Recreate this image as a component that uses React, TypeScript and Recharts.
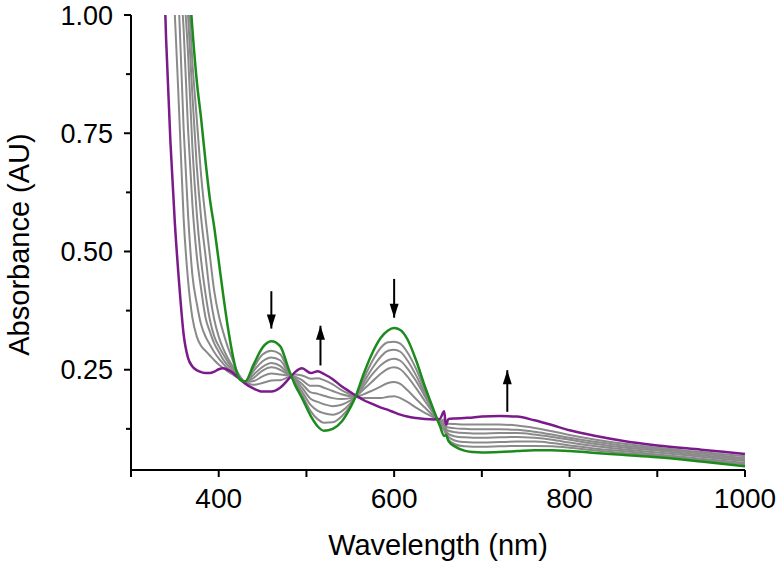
import React from 'react';
import { LineChart, Line, XAxis, YAxis, ReferenceLine, ReferenceDot } from 'recharts';

// wavelength grid (nm)
const WAVELENGTH = [
  335, 340, 345, 350, 355, 360, 365, 370, 375, 380, 385, 390, 395, 400, 405, 410, 415, 420, 425, 430,
  440, 450, 460, 470, 480, 487, 495, 505, 513, 520, 530, 540, 550, 556, 565, 575, 585, 593, 600, 607,
  615, 625, 635, 645, 652, 657, 659, 662, 670, 680, 690, 700, 720, 740, 760, 780, 800, 830, 860, 900,
  950, 1000,
];

// starting spectrum
const PURPLE = [
  1.25, 0.95, 0.73, 0.56, 0.43, 0.325, 0.275, 0.257, 0.249, 0.245, 0.243, 0.243, 0.246, 0.251, 0.253, 0.25, 0.245, 0.237, 0.229, 0.221,
  0.21, 0.204, 0.204, 0.212, 0.231, 0.245, 0.253, 0.243, 0.247, 0.241, 0.23, 0.215, 0.203, 0.196, 0.186, 0.178, 0.17, 0.165, 0.16, 0.155,
  0.151, 0.148, 0.146, 0.145, 0.146, 0.162, 0.134, 0.146, 0.147, 0.148, 0.149, 0.151, 0.152, 0.151, 0.143, 0.133, 0.122, 0.11, 0.1, 0.09,
  0.081, 0.072,
];

// intermediate spectra
const GRAY_1 = [
  null, null, 1.15, 1.0, 0.79, 0.57, 0.44, 0.36, 0.32, 0.3, 0.29, 0.28, 0.27, 0.261, 0.254, 0.247, 0.241, 0.235, 0.229, 0.224,
  0.218, 0.222, 0.227, 0.228, 0.235, 0.24, 0.238, 0.231, 0.232, 0.228, 0.219, 0.207, 0.198, 0.193, 0.19, 0.19, 0.19, 0.193, 0.194, 0.19,
  0.182, 0.17, 0.159, 0.149, 0.142, 0.145, 0.133, 0.136, 0.135, 0.134, 0.134, 0.134, 0.134, 0.132, 0.127, 0.12, 0.112, 0.102, 0.094, 0.085,
  0.076, 0.067,
];
const GRAY_2 = [
  null, null, null, 1.15, 1.0, 0.76, 0.58, 0.45, 0.39, 0.345, 0.32, 0.303, 0.287, 0.274, 0.263, 0.253, 0.245, 0.238, 0.23, 0.224,
  0.226, 0.236, 0.242, 0.24, 0.237, 0.235, 0.228, 0.216, 0.216, 0.212, 0.205, 0.198, 0.194, 0.193, 0.198, 0.206, 0.215, 0.222, 0.224, 0.22,
  0.207, 0.188, 0.17, 0.152, 0.14, 0.14, 0.129, 0.128, 0.126, 0.125, 0.124, 0.124, 0.124, 0.123, 0.119, 0.113, 0.106, 0.097, 0.09, 0.082,
  0.073, 0.063,
];
const GRAY_3 = [
  null, null, null, null, 1.1, 0.97, 0.76, 0.6, 0.49, 0.42, 0.36, 0.33, 0.305, 0.288, 0.272, 0.26, 0.25, 0.24, 0.231, 0.224,
  0.233, 0.248, 0.255, 0.25, 0.238, 0.232, 0.22, 0.202, 0.199, 0.195, 0.19, 0.188, 0.19, 0.193, 0.208, 0.225, 0.242, 0.252, 0.255, 0.251,
  0.236, 0.211, 0.184, 0.157, 0.139, 0.136, 0.126, 0.121, 0.118, 0.116, 0.115, 0.115, 0.116, 0.116, 0.113, 0.108, 0.102, 0.093, 0.086, 0.079,
  0.069, 0.06,
];
const GRAY_4 = [
  null, null, null, null, null, 1.06, 0.92, 0.72, 0.58, 0.48, 0.41, 0.355, 0.32, 0.3, 0.283, 0.268, 0.255, 0.243, 0.232, 0.224,
  0.24, 0.256, 0.264, 0.258, 0.24, 0.23, 0.212, 0.188, 0.182, 0.177, 0.173, 0.176, 0.185, 0.193, 0.215, 0.24, 0.26, 0.27, 0.273, 0.269,
  0.253, 0.226, 0.194, 0.16, 0.138, 0.132, 0.122, 0.114, 0.109, 0.107, 0.106, 0.106, 0.107, 0.108, 0.106, 0.102, 0.096, 0.088, 0.082, 0.075,
  0.066, 0.057,
];
const GRAY_5 = [
  null, null, null, null, null, 1.15, 1.0, 0.83, 0.68, 0.57, 0.49, 0.41, 0.355, 0.32, 0.295, 0.276, 0.26, 0.245, 0.233, 0.224,
  0.248, 0.268, 0.276, 0.27, 0.242, 0.226, 0.204, 0.175, 0.163, 0.158, 0.155, 0.162, 0.179, 0.193, 0.222, 0.253, 0.278, 0.29, 0.292, 0.288,
  0.27, 0.238, 0.2, 0.162, 0.136, 0.128, 0.118, 0.108, 0.1, 0.097, 0.096, 0.096, 0.097, 0.098, 0.098, 0.095, 0.09, 0.083, 0.078, 0.071,
  0.062, 0.053,
];
const GRAY_6 = [
  null, null, null, null, null, null, 1.06, 0.9, 0.78, 0.66, 0.57, 0.49, 0.415, 0.365, 0.33, 0.3, 0.275, 0.25, 0.234, 0.224,
  0.255, 0.282, 0.29, 0.283, 0.245, 0.223, 0.197, 0.162, 0.145, 0.138, 0.139, 0.151, 0.174, 0.193, 0.23, 0.268, 0.297, 0.308, 0.309, 0.305,
  0.287, 0.252, 0.207, 0.163, 0.134, 0.122, 0.114, 0.102, 0.092, 0.088, 0.087, 0.087, 0.088, 0.089, 0.089, 0.088, 0.085, 0.079, 0.074, 0.068,
  0.059, 0.05,
];

// final spectrum
const GREEN = [
  null, null, null, null, null, null, 1.1, 0.97, 0.86, 0.78, 0.69, 0.61, 0.55, 0.48, 0.41, 0.345, 0.29, 0.248, 0.228, 0.225,
  0.262, 0.297, 0.31, 0.3, 0.25, 0.218, 0.19, 0.152, 0.13, 0.121, 0.125, 0.14, 0.17, 0.193, 0.24, 0.285, 0.318, 0.333, 0.338, 0.334,
  0.315, 0.27, 0.215, 0.165, 0.132, 0.11, 0.112, 0.099, 0.087, 0.079, 0.076, 0.075, 0.076, 0.078, 0.08, 0.08, 0.078, 0.074, 0.07, 0.065,
  0.056, 0.046,
];

const GRAYS = [GRAY_1, GRAY_2, GRAY_3, GRAY_4, GRAY_5, GRAY_6];

const X_TICKS = [300, 400, 500, 600, 700, 800, 900, 1000];
const X_LABELS = [400, 600, 800, 1000];
const Y_TICKS = [0.125, 0.25, 0.375, 0.5, 0.625, 0.75, 0.875, 1.0];
const Y_LABELS = [0.25, 0.5, 0.75, 1.0];

// arrows: wavelength, tail absorbance, head absorbance
const ARROW_X = [460, 600, 516, 729];
const ARROW_FROM = [0.416, 0.442, 0.259, 0.161];
const ARROW_TO = [0.337, 0.36, 0.343, 0.249];

const data = WAVELENGTH.map((nm, i) => {
  const row: any = { nm, purple: PURPLE[i], green: GREEN[i] };
  GRAYS.forEach((g, k) => {
    row[`g${k + 1}`] = g[i];
  });
  return row;
});

const FONT = 'Arial, "Liberation Sans", sans-serif';

const XTick = (props: any) => {
  const { x, y, payload } = props;
  const show = X_LABELS.includes(payload.value);
  return (
    <g>
      <line x1={x} x2={x} y1={y} y2={y + 7} stroke="#000" strokeWidth={2} />
      {show && (
        <text x={x} y={y + 38} textAnchor="middle" fontSize={28} fontFamily={FONT} fill="#000">
          {payload.value}
        </text>
      )}
    </g>
  );
};

const YTick = (props: any) => {
  const { x, y, payload } = props;
  const major = Y_LABELS.includes(payload.value);
  return (
    <g>
      <line x1={x - (major ? 7 : 5)} x2={x} y1={y} y2={y} stroke="#000" strokeWidth={2} />
      {major && (
        <text x={x - 18} y={y} dy="0.36em" textAnchor="end" fontSize={27} fontFamily={FONT} fill="#000">
          {payload.value.toFixed(2)}
        </text>
      )}
    </g>
  );
};

const arrowHead = (up: boolean) => (props: any) => {
  const { cx, cy } = props;
  const d = up ? 14 : -14;
  return <polygon points={`${cx - 4.5},${cy + d} ${cx + 4.5},${cy + d} ${cx},${cy}`} fill="#000" />;
};

export default function App() {
  return (
    <div style={{ position: 'absolute', left: 0, top: 0, background: '#fff' }}>
      <LineChart width={778} height={563} data={data} margin={{ top: 15, right: 33, bottom: 0, left: 0 }}>
        <XAxis
          dataKey="nm"
          type="number"
          domain={[300, 1000]}
          ticks={X_TICKS}
          tick={<XTick />}
          tickLine={false}
          tickSize={0}
          tickMargin={0}
          height={93}
          stroke="#000"
          strokeWidth={2}
          label={{
            content: ({ viewBox }: any) => (
              <text
                x={viewBox.x + viewBox.width / 2}
                y={viewBox.y + 85}
                textAnchor="middle"
                fontSize={29}
                fontFamily={FONT}
                fill="#000"
              >
                Wavelength (nm)
              </text>
            ),
          }}
        />
        <YAxis
          type="number"
          domain={[0.038, 1.0]}
          allowDataOverflow
          ticks={Y_TICKS}
          tick={<YTick />}
          tickLine={false}
          tickSize={0}
          tickMargin={0}
          width={131}
          stroke="#000"
          strokeWidth={2}
          label={{
            content: ({ viewBox }: any) => {
              const cy = viewBox.y + viewBox.height / 2 + 2;
              return (
                <text
                  x={29}
                  y={cy}
                  transform={`rotate(-90, 29, ${cy})`}
                  textAnchor="middle"
                  fontSize={29}
                  fontFamily={FONT}
                  fill="#000"
                >
                  Absorbance (AU)
                </text>
              );
            },
          }}
        />
        {GRAYS.map((_, k) => (
          <Line
            key={k}
            dataKey={`g${k + 1}`}
            type="monotone"
            stroke="#8a8a8a"
            strokeWidth={2}
            dot={false}
            isAnimationActive={false}
          />
        ))}
        <Line dataKey="purple" type="monotone" stroke="#7b1a8a" strokeWidth={2.5} dot={false} isAnimationActive={false} />
        <Line dataKey="green" type="monotone" stroke="#1c8a1c" strokeWidth={2.5} dot={false} isAnimationActive={false} />
        {ARROW_X.map((ax, i) => (
          <ReferenceLine
            key={`al${i}`}
            segment={[
              { x: ax, y: ARROW_FROM[i] },
              { x: ax, y: ARROW_TO[i] },
            ]}
            stroke="#000"
            strokeWidth={2}
          />
        ))}
        {ARROW_X.map((ax, i) => (
          <ReferenceDot
            key={`ah${i}`}
            x={ax}
            y={ARROW_TO[i]}
            r={0}
            shape={arrowHead(ARROW_TO[i] > ARROW_FROM[i])}
          />
        ))}
      </LineChart>
    </div>
  );
}
